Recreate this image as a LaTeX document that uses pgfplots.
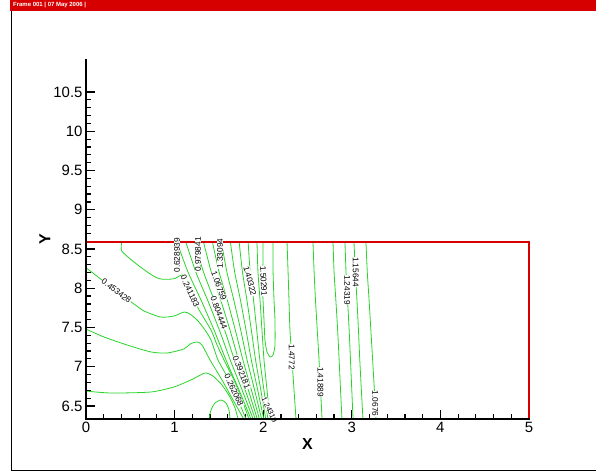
\documentclass[border=0pt]{standalone}
\usepackage{pgfplots}
\pgfplotsset{compat=1.18}
\usepackage{fontspec}
\setmainfont{Liberation Sans}
\definecolor{tecgreen}{RGB}{40,212,40}
\definecolor{tecred}{RGB}{215,0,0}
\tikzset{lbl/.style={font=\fontsize{8.3}{9}\selectfont, fill=white, inner sep=0.4bp}}
\begin{document}
\begin{tikzpicture}
\path[use as bounding box] (-86bp,-54bp) rectangle (510bp,419bp);
\fill[tecred] (-76bp,408bp) rectangle (510bp,419bp);
\node[anchor=west, text=white, font=\fontsize{6}{6}\selectfont\bfseries, inner sep=0] at (-73bp,413.5bp) {Frame 001 | 07 May 2006 |};
\draw[black, line width=0.8bp] (-75bp,408bp) -- (-75bp,-51bp) -- (510bp,-51bp);
\begin{axis}[
  scale only axis, width=443bp, height=359bp,
  xmin=0, xmax=5, ymin=6.334, ymax=10.908,
  axis line style={draw=none},
  tick pos=left,
  tick align=inside,
  xtick={0,1,2,3,4,5}, ytick={6.5,7,7.5,8,8.5,9,9.5,10,10.5},
  minor x tick num=4, minor y tick num=4,
  major tick length=9bp, minor tick length=5bp,
  every tick/.style={black, line width=1.2bp},
  ticklabel style={font=\fontsize{15}{15}\selectfont},
  /pgf/number format/assume math mode=true,
  xlabel={X}, ylabel={Y},
  every axis x label/.style={at={(axis description cs:0.5,0)}, yshift=-25bp, anchor=center, font=\fontsize{16}{16}\selectfont\bfseries},
  every axis y label/.style={at={(axis description cs:0,0.5)}, xshift=-41bp, rotate=90, anchor=center, font=\fontsize{16}{16}\selectfont\bfseries},
  cl/.style={tecgreen, line width=0.8bp, smooth, tension=0.4},
  clip=false,
]
% left family
\addplot[cl] coordinates {(0.403,8.585) (0.403,8.474) (0.542,8.334) (0.677,8.219) (0.790,8.137) (0.869,8.114) (0.993,8.121) (1.084,8.168) (1.140,8.105) (1.253,7.773) (1.411,7.468) (1.479,7.277) (1.558,7.086) (1.670,6.831) (1.761,6.576) (1.840,6.334)};
\addplot[cl] coordinates {(0,8.261) (0.147,8.134) (0.339,7.965) (0.542,7.799) (0.655,7.710) (0.843,7.633) (0.993,7.646) (1.106,7.697) (1.174,7.672) (1.264,7.583) (1.343,7.468) (1.411,7.340) (1.490,7.086) (1.614,6.831) (1.716,6.576) (1.806,6.334)};
\addplot[cl] coordinates {(0,7.48) (0.203,7.379) (0.463,7.277) (0.734,7.188) (0.914,7.175) (1.106,7.226) (1.174,7.289) (1.253,7.315) (1.309,7.277) (1.400,7.086) (1.535,6.831) (1.660,6.576) (1.780,6.334)};
\addplot[cl] coordinates {(0,6.69) (0.282,6.665) (0.734,6.678) (0.993,6.742) (1.106,6.793) (1.208,6.844) (1.343,6.920) (1.433,6.882) (1.535,6.767) (1.625,6.614) (1.682,6.474) (1.716,6.334)};
\addplot[cl] coordinates {(1.388,6.334) (1.411,6.449) (1.456,6.538) (1.524,6.576) (1.580,6.538) (1.614,6.449) (1.625,6.334)};
% band
\addplot[cl] coordinates {(1.027,8.585) (1.151,8.207) (1.298,7.850) (1.445,7.468) (1.580,7.086) (1.727,6.703) (1.862,6.334)};
\addplot[cl] coordinates {(1.128,8.585) (1.239,8.207) (1.372,7.850) (1.505,7.468) (1.628,7.086) (1.762,6.703) (1.886,6.334)};
\addplot[cl] coordinates {(1.228,8.585) (1.326,8.207) (1.446,7.850) (1.565,7.468) (1.675,7.086) (1.797,6.703) (1.910,6.334)};
\addplot[cl] coordinates {(1.327,8.585) (1.414,8.207) (1.520,7.850) (1.625,7.468) (1.723,7.086) (1.832,6.703) (1.933,6.334)};
\addplot[cl] coordinates {(1.428,8.585) (1.502,8.207) (1.594,7.850) (1.685,7.468) (1.771,7.086) (1.867,6.703) (1.957,6.334)};
\addplot[cl] coordinates {(1.529,8.585) (1.590,8.207) (1.668,7.850) (1.746,7.468) (1.818,7.086) (1.903,6.703) (1.982,6.334)};
\addplot[cl] coordinates {(1.630,8.585) (1.678,8.207) (1.743,7.850) (1.806,7.468) (1.866,7.086) (1.938,6.703) (2.006,6.334)};
\addplot[cl] coordinates {(1.729,8.585) (1.766,8.207) (1.816,7.850) (1.866,7.468) (1.914,7.086) (1.973,6.703) (2.029,6.334)};
\addplot[cl] coordinates {(1.830,8.585) (1.853,8.207) (1.891,7.850) (1.927,7.468) (1.962,7.086) (2.008,6.703) (2.053,6.334)};
\addplot[cl] coordinates {(1.930,8.585) (1.941,8.207) (1.964,7.850) (1.986,7.468) (2.009,7.086) (2.043,6.703) (2.077,6.334)};
% maximum loop
\addplot[cl] coordinates {(1.998,8.585) (1.998,8.334) (1.986,8.105) (1.998,7.850) (2.009,7.595) (2.020,7.340) (2.043,7.188) (2.077,7.124) (2.111,7.149) (2.133,7.277) (2.133,7.595) (2.122,7.850) (2.111,8.232) (2.111,8.585)};
% right family
\addplot[cl] coordinates {(2.269,8.585) (2.280,8.232) (2.291,7.850) (2.302,7.468) (2.325,7.086) (2.348,6.703) (2.370,6.334)};
\addplot[cl] coordinates {(2.562,8.585) (2.575,8.2) (2.59,7.85) (2.61,7.47) (2.63,7.09) (2.648,6.70) (2.664,6.334)};
\addplot[cl] coordinates {(2.788,8.585) (2.80,8.2) (2.82,7.85) (2.84,7.47) (2.857,7.09) (2.873,6.70) (2.889,6.334)};
\addplot[cl] coordinates {(2.923,8.585) (2.935,8.2) (2.952,7.85) (2.97,7.47) (2.985,7.09) (3.0,6.70) (3.014,6.334)};
\addplot[cl] coordinates {(3.025,8.585) (3.04,8.2) (3.058,7.85) (3.075,7.47) (3.09,7.09) (3.108,6.70) (3.126,6.334)};
\addplot[cl] coordinates {(3.160,8.585) (3.175,8.2) (3.195,7.85) (3.215,7.47) (3.235,7.09) (3.255,6.70) (3.273,6.334)};
% boundary
\addplot[tecred, line width=1.8bp] coordinates {(0,8.585) (5,8.585) (5,6.334)};
% labels
\node[lbl, rotate=90] at (axis cs:1.027,8.42) {0.628939};
\node[lbl, rotate=90] at (axis cs:1.264,8.43) {0.979841};
\node[lbl, rotate=90] at (axis cs:1.512,8.44) {1.33094};
\node[lbl, rotate=-65] at (axis cs:1.174,7.965) {0.241183};
\node[lbl, rotate=-37] at (axis cs:0.344,7.965) {0.453428};
\node[lbl, rotate=-70] at (axis cs:1.501,8.028) {1.06759};
\node[lbl, rotate=-70] at (axis cs:1.50,7.684) {0.804444};
\node[lbl, rotate=-75] at (axis cs:1.851,8.092) {1.40322};
\node[lbl, rotate=-87] at (axis cs:2.005,8.092) {1.50291};
\node[lbl, rotate=-68] at (axis cs:1.755,6.93) {0.392181};
\node[lbl, rotate=-65] at (axis cs:1.67,6.70) {0.262068};
\node[lbl, rotate=-65, font=\fontsize{7.5}{8}\selectfont] at (axis cs:2.07,6.45) {1.24319};
\node[lbl, rotate=-90] at (axis cs:2.322,7.124) {1.4772};
\node[lbl, rotate=-90] at (axis cs:2.645,6.805) {1.41889};
\node[lbl, rotate=-90] at (axis cs:2.947,7.977) {1.24319};
\node[lbl, rotate=-90] at (axis cs:3.045,8.207) {1.15644};
\node[lbl, rotate=-90] at (axis cs:3.265,6.53) {1.0676};
% axis lines (left and bottom only)
\draw[black, line width=1.8bp, line cap=rect] (rel axis cs:0,1) -- (rel axis cs:0,0) -- (rel axis cs:1,0);
\end{axis}
\end{tikzpicture}
\end{document}
